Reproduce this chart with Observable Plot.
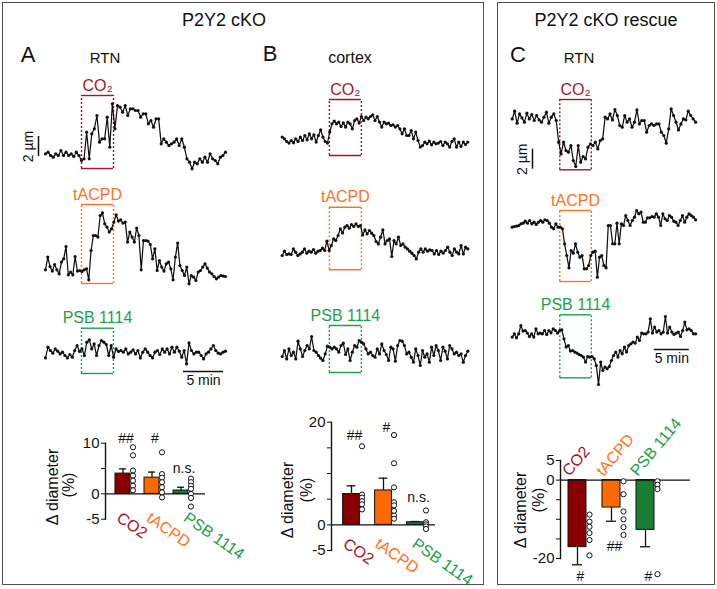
<!DOCTYPE html>
<html><head><meta charset="utf-8">
<script src="https://cdn.jsdelivr.net/npm/d3@7"></script>
<script src="https://cdn.jsdelivr.net/npm/@observablehq/plot@0.6"></script>
<style>
body{margin:0;background:#fff;font-family:"Liberation Sans",Arial,sans-serif;}
#fig{position:relative;width:717px;height:589px;overflow:hidden;background:#fff;}
.box{position:absolute;border:1.5px solid #505050;box-sizing:border-box;}
.lbl{position:absolute;white-space:nowrap;color:#111;line-height:1;}
.pl{position:absolute;}
.pl svg{overflow:visible;background:transparent !important;}
</style></head><body><div id="fig"></div>
<script>
// ---------- data ----------
const drugs = ["CO2", "tACPD", "PSB 1114"];
const traceLabels = ["CO₂", "tACPD", "PSB 1114"];
const drugColors = ["#a8141c", "#ff7220", "#1f9f47"];
const barColors = ["#8a0000", "#ff6a00", "#1b7e35"];

// vessel diameter traces (µm, relative to baseline), regularly sampled
const A_CO2 = [0.07,0.23,-0.1,-0.27,0.07,-0.1,0.4,-0.1,0.23,-0.1,0.07,-0.2,0.23,-0.1,-0.6,-0.43,2.23,-0.43,2.07,2.57,3.9,1.23,1.57,1.57,3.73,0.73,5.07,2.57,4.9,4.73,4.23,4.9,3.9,4.57,4.57,4.4,4.4,3.73,4.07,4.07,3.07,3.4,2.73,3.57,3.57,1.07,1.57,1.23,0.9,1.07,1.23,1.57,0.9,1.57,0.73,-0.43,-0.77,-1.43,-0.77,-0.93,-0.43,-0.77,-0.27,-0.77,0.07,-0.43,-0.6,-0.93,-0.27,-0.1,0.23];
const A_tACPD = [-0.1,1.17,0.23,-0.23,0.43,-0.1,-0.5,0.67,1.0,2.23,-0.6,-0.33,-0.6,1.23,-0.23,-0.17,-0.27,-0.1,0,-1.1,1.83,3.33,3.33,3.17,5.33,5.6,4.5,4.17,3.67,4.0,4.67,5.4,4.77,4.9,4.57,4.67,2.67,3.67,3.17,2.67,4.07,3.33,-0.1,2.83,2.83,2.77,2.43,1.0,2.0,-0.17,0.83,0.17,-0.23,0.5,0.67,0,-1.1,1.17,2.57,0.33,-0.17,-0.67,0.17,-1.5,-0.67,-0.83,-1.17,-0.33,-0.17,0.17,0.5,0.07,-0.33,-0.5,-0.77,-1.0,-0.83,-0.67,-0.73,-0.77];
const A_PSB = [-0.67,0.4,0.07,-0.2,0.23,0,-0.27,-0.1,-0.43,-0.67,-0.33,-0.6,0.07,0.57,-0.03,0.23,-0.43,0.9,1.13,0.23,0.73,-0.43,0.57,1.07,0.9,0.67,-0.43,0.57,-0.6,0.23,-0.03,0.07,-0.1,0.23,-0.27,-0.1,0.13,-0.27,0.07,-0.67,-0.1,0.23,-0.1,-0.43,-0.67,-0.1,0.07,-0.33,0.23,-0.1,0.23,-0.27,0.4,-0.1,0.4,0,-0.6,0.07,-1.27,0.83,0.07,-0.27,-0.1,-0.1,-0.43,-0.77,-0.27,-0.1,0.23,0.57,0.07,-0.2,-0.27,-0.1,0];
const B_CO2 = [0.27,0.1,-0.17,-0.33,-0.07,-0.3,0.1,-0.17,0.27,-0.07,0.43,0,0.6,0.1,0.5,-0.23,0.43,1.0,0.27,-0.17,-0.33,0.77,1.6,1.87,1.6,1.77,1.33,1.7,1.27,1.77,1.6,1.1,1.93,2.1,1.67,2.33,1.93,2.27,2.1,2.33,2.5,1.93,2.33,1.77,1.27,1.77,1.6,1.67,1.43,1.5,1.27,1.43,1.1,0.6,1.1,0.43,0.43,0.93,0.1,0.77,-0.07,-0.73,-0.57,-0.23,-0.4,-0.13,-0.5,-0.23,-0.4,-0.33,-0.17,-0.57,-0.23,-0.4,-0.73,-0.17,0.1,-0.73,-0.23,-0.67,-0.23,-0.47,-0.23];
const B_tACPD = [-0.33,0.1,-0.23,-0.17,-0.23,0.33,0,-0.33,-0.17,0,0.33,-0.1,0.1,0,0.27,-0.1,0.1,0.17,0.4,0.17,1.1,0.17,0.67,1.33,1.17,1.67,2.33,1.93,2.5,2.67,2.4,2.77,2.57,2.83,2.57,2.67,1.73,2.23,1.83,2.17,1.9,1.67,1.07,0.83,1.5,2.23,0.83,1.17,1.33,-0.43,1.17,0.83,1.5,0.67,0.83,0.5,0.33,0.1,-0.1,-0.33,-0.67,0,0.33,0,0.33,0.1,0.23,0.17,-0.17,0.17,-0.23,0.1,-0.1,0.17,0.5,0,-0.33,0.33,0,-0.17,0.67,-0.17,0.5,0.33];
const B_PSB = [-0.53,0.07,-0.77,0.23,-0.43,-0.1,-0.77,1.0,0.23,-0.53,0.07,0.57,0.23,1.47,0.07,-0.1,-0.43,-0.7,-0.93,-0.27,0.5,0.4,0.23,0.4,0.23,-0.1,0.57,0.8,-0.33,0.23,-0.93,-0.1,0.57,0.4,1.07,0.9,0.73,0.23,-0.27,-0.1,-0.43,-0.6,0.23,-0.27,0.73,0.07,-0.33,-0.93,0.4,0.23,-1.0,0.57,1.07,1.0,0.57,-0.27,-0.1,-0.6,-1.1,0.23,-0.43,-1.43,0.07,-0.6,-0.27,-1.1,0.4,-0.43,0.57,0.07,-0.93,0.4,0,-0.77,0.57,0.23,-0.27,-0.1,-0.43,-0.27,-1.1,-0.43,0];
const C_CO2 = [-0.17,0.6,-0.6,0.33,-0.07,-0.5,0.4,-0.17,0.27,-0.33,0.17,-0.27,-0.5,0,0.5,-0.6,0,0.33,-0.33,-2.5,-3.67,-2.5,-3.33,-3.5,-2.83,-4.33,-4.93,-2.83,-4.5,-3.93,-4.17,-3.0,-2.67,-2.83,-2.5,-3.17,-2.33,-2.17,0,-0.17,0.33,-0.27,0.77,0.17,-0.83,-1.0,0.17,-0.5,-0.17,-1.0,-0.5,0.73,-0.67,-0.33,-0.33,-1.5,-0.83,-0.67,-0.83,-0.67,-0.67,-1.5,-1.83,-2.6,-1.17,0.83,0.17,-0.5,-1.27,-0.67,-0.17,-0.27,0.6,0.17,-0.17,-0.5];
const C_tACPD = [-0.17,-0.1,-0.07,0,0.17,0.23,0.43,0.23,0.5,0.17,0.33,0.1,0.33,0.5,0.33,0.57,0.5,0.23,-0.17,-0.33,0.17,-0.17,-0.17,-0.33,-1.83,-3.0,-4.23,-2.5,-2.77,-1.83,-2.67,-3.17,-3.0,-4.33,-4.33,-4.0,-3.0,-2.67,-2.57,-5.17,-3.17,-3.0,-4.0,-4.23,0,0,-1.83,-1.83,0.23,-1.83,0.17,0,1.0,0.5,0,0.5,0.83,1.5,1.17,1.33,0.33,0.33,0.77,0.77,0.9,0.83,1.17,0.83,0,1.17,0.67,0.5,1.0,0.83,0.43,0.33,0,0.5,1.0,0.33,0.83,1.17,1.0,0.83,0.57];
const C_PSB = [-0.33,0,-0.4,0,0.83,0.27,0.33,0.07,-0.27,0,-0.33,0.5,0,0.07,0,0.33,-0.07,0.33,0.1,0.5,0.33,0.07,0.33,0.4,-0.5,-1.33,-1.17,-1.73,-1.67,-1.83,-1.93,-2.07,-2.17,-2.33,-2.83,-2.27,-2.33,-2.27,-2.5,-3.17,-5.07,-2.83,-3.67,-3.33,-3.5,-3.27,-2.67,-2.17,-1.83,-2.33,-1.67,-2.0,-1.33,-1.83,-1.17,-1.0,-0.83,-0.93,-0.33,-0.67,0.07,0,0,0.17,1.5,0.07,0.67,0.17,0.33,0,0.17,1.73,0.07,0.67,0.17,-0.07,0.07,0.17,-0.27,0.33,1.17,0.4,0.5,0.33,0,0];

// bar charts: Δ diameter (%)
const A_mean = [4.0, 3.2, 0.66];
const A_sem = [0.93, 1.1, 0.65];
const A_dots = [[9.2,7.6,4.6,3.6,2.6,1.6,0.7],[8.2,3.9,3.2,2.3,1.3,0.3,-0.7],[3.0,2.3,1.6,1.0,0,-0.8,-2.5]];
const A_sig = ["##", "#", "n.s."];
const B_mean = [6.0, 6.7, 0.5];
const B_sem = [1.6, 2.4, 0.15];
const B_dots = [[15.3,5.9,5.3,4.6,4.0,3.0],[17.5,12.0,7.3,4.4,3.8,2.7,1.8,1.2],[2.8,0.5,0.1,-0.3,-0.8]];
const B_sig = ["##", "#", "n.s."];
const C_mean = [-17.1, -7.0, -12.7];
const C_sem = [4.5, 3.5, 4.3];
const C_dots = [[-8.8,-10.6,-11.9,-13.5,-15.3,-19.2],[-0.3,-3.6,-8.0,-10.0,-12.0,-14.0],[-0.3,-1.2,-2.3,-24.0]];
const C_sig = ["#", "##", "#"];

// tick labels
const A_ticks = [-5, 0, 5, 10], A_tickLabels = [-5, 0, 10];
const B_ticks = [-5, 0, 5, 10, 15, 20], B_tickLabels = [-5, 0, 20];
const C_ticks = [-20, -15, -10, -5, 0, 5], C_tickLabels = [-20, 0, 5];

// ---------- layout ----------
const fig = document.getElementById("fig");
const FONT = '"Liberation Sans", Arial, sans-serif';
const PX_PER_UM = 10;

function place(node, left, top) {
  const d = document.createElement("div");
  d.className = "pl"; d.style.left = left + "px"; d.style.top = top + "px";
  d.appendChild(node); fig.appendChild(d);
}
function label(text, cx, cy, size, rotate) {
  const d = document.createElement("div");
  d.className = "lbl"; d.textContent = text;
  d.style.fontSize = size + "px"; d.style.left = cx + "px"; d.style.top = cy + "px";
  d.style.transform = "translate(-50%,-50%)" + (rotate ? ` rotate(${rotate}deg)` : "");
  fig.appendChild(d);
}
function box(l, t, w, h) {
  const d = document.createElement("div");
  d.className = "box";
  Object.assign(d.style, {left: l + "px", top: t + "px", width: w + "px", height: h + "px"});
  fig.appendChild(d);
}
box(2, 2, 482, 583);
box(497, 2, 218, 583);
label("P2Y2 cKO", 224, 20, 18);
label("P2Y2 cKO rescue", 606, 20, 18);
label("A", 28, 55, 22);
label("B", 270, 54, 22);
label("C", 518, 55, 22);
label("RTN", 105, 57, 15);
label("cortex", 350, 58, 16);
label("RTN", 579, 57, 15);

const style = {background: "transparent", overflow: "visible", fontFamily: FONT, color: "#111"};

function tracePlot(values, col, row, k, extras = []) {
  const n = values.length;
  const data = values.map((v, i) => ({t: i * col.span / (n - 1), v}));
  const xDom = [(col.left - col.tZero) / col.ppm, (col.left + col.width - col.tZero) / col.ppm];
  const yDom = [(row.baseY - (row.top + row.height)) / PX_PER_UM, (row.baseY - row.top) / PX_PER_UM];
  const [t0, t1] = col.stim;
  const color = drugColors[k];
  const p = Plot.plot({
    width: col.width, height: row.height, margin: 0,
    x: {domain: xDom, axis: null}, y: {domain: yDom, axis: null}, style,
    marks: [
      Plot.ruleX([t0, t1], {y1: row.boxBot, y2: row.boxTop, stroke: color, strokeWidth: 1.4, strokeDasharray: "2,2"}),
      Plot.ruleY([row.boxTop, row.boxBot], {x1: t0, x2: t1, stroke: color, strokeWidth: 1.4}),
      Plot.text([traceLabels[k]], {text: d => d, x: (t0 + t1) / 2, y: row.boxTop, dy: -5, lineAnchor: "bottom", fill: color, fontSize: 16}),
      Plot.line(data, {x: "t", y: "v", stroke: "#111", strokeWidth: 1.25}),
      Plot.dot(data, {x: "t", y: "v", r: 1.6, fill: "#111"}),
      ...extras
    ]
  });
  place(p, col.left, row.top);
}

const colA = {left: 20, width: 215, tZero: 45, ppm: 8, span: 22.5, stim: [4.5, 8.5]};
const colB = {left: 250, width: 230, tZero: 281.7, ppm: 8, span: 23.2, stim: [5.9, 9.9]};
const colC = {left: 505, width: 205, tZero: 511.7, ppm: 7, span: 26.2, stim: [6.8, 11.3]};

const um2 = (t, y0) => [
  Plot.ruleX([t], {y1: y0, y2: y0 + 2, stroke: "#111", strokeWidth: 1.5}),
  Plot.text(["2 µm"], {text: d => d, x: t, y: y0 + 1, rotate: -90, dx: -10, fontSize: 14})
];
const min5 = (t, y0) => [
  Plot.ruleY([y0], {x1: t, x2: t + 5, stroke: "#111", strokeWidth: 1.5}),
  Plot.text(["5 min"], {text: d => d, x: t + 2.5, y: y0, dy: 4, lineAnchor: "top", fontSize: 14})
];

tracePlot(A_CO2, colA, {top: 82, height: 92, baseY: 154, boxTop: 5.9, boxBot: -1.4}, 0, um2(-0.875, -0.2));
tracePlot(A_tACPD, colA, {top: 182, height: 106, baseY: 268.3, boxTop: 6.43, boxBot: -1.47}, 1);
tracePlot(A_PSB, colA, {top: 300, height: 95, baseY: 350.7, boxTop: 2.3, boxBot: -2.23}, 2, min5(17.25, -2.03));
tracePlot(B_CO2, colB, {top: 82, height: 80, baseY: 139.3, boxTop: 4.03, boxBot: -1.57}, 0);
tracePlot(B_tACPD, colB, {top: 184, height: 92, baseY: 251.7, boxTop: 4.5, boxBot: -1.76}, 1);
tracePlot(B_PSB, colB, {top: 300, height: 80, baseY: 350.7, boxTop: 2.57, boxBot: -2.13}, 2);
tracePlot(C_CO2, colC, {top: 82, height: 95, baseY: 116.7, boxTop: 1.77, boxBot: -5.26}, 0, um2(2.9, -5.2));
tracePlot(C_tACPD, colC, {top: 188, height: 100, baseY: 225, boxTop: 1.5, boxBot: -5.6}, 1);
tracePlot(C_PSB, colC, {top: 292, height: 95, baseY: 333.3, boxTop: 1.9, boxBot: -4.4}, 2, min5(20.3, -1.57));

function barPlot(c) {
  const rows = drugs.map((d, i) => ({drug: d, mean: c.means[i], sem: c.sems[i], sig: c.sig[i], sigY: c.sigY[i], bar: barColors[i], txt: drugColors[i]}));
  const dots = drugs.flatMap((d, i) => c.dots[i].map(v => ({drug: d, v})));
  const end = d => d.mean + Math.sign(d.mean) * d.sem;
  const p = Plot.plot({
    width: c.width, height: c.height,
    marginLeft: c.ml, marginRight: c.mr, marginTop: c.mt, marginBottom: c.mb,
    x: {domain: drugs, axis: null, paddingInner: 0, paddingOuter: c.pad, align: c.align},
    y: {domain: c.yDomain},
    color: {type: "identity"},
    style: {...style, fontSize: "15px"},
    marks: [
      Plot.ruleX(rows, {x: "drug", y1: "mean", y2: end, stroke: "#111", strokeWidth: 1.3}),
      Plot.tickY(rows, {x: "drug", y: end, insetLeft: c.capInset, insetRight: c.capInset, stroke: "#111", strokeWidth: 1.3}),
      Plot.barY(rows, {x: "drug", y: "mean", fill: "bar", stroke: "#111", strokeWidth: 1, insetLeft: c.barInset, insetRight: c.barInset}),
      Plot.ruleY([0], {stroke: "#111", strokeWidth: 1.4}),
      Plot.frame({anchor: "left", stroke: "#111", strokeWidth: 1.4}),
      Plot.axisY({ticks: c.ticks, tickFormat: d => c.tickLabels.includes(d) ? String(d) : "", tickSize: 4, tickPadding: 2, fontSize: 15, label: null}),
      Plot.dot(dots, {x: "drug", y: "v", dx: c.dotDx, r: 2.6, fill: "white", stroke: "#111", strokeWidth: 1}),
      Plot.text(rows, {x: "drug", y: "sigY", text: "sig", dx: 3, fontSize: 14}),
      ...rows.map((r, i) => Plot.text([r], {x: "drug", y: 0, text: "drug", fill: "txt", rotate: c.rot, textAnchor: "start", lineAnchor: c.lineAnchor, dx: c.labelDx[i], dy: c.labelDy, fontSize: 16}))
    ]
  });
  place(p, c.left, c.top);
}

barPlot({left: 20, top: 420, width: 200, height: 150, ml: 85, mr: 15, mt: 22.7, mb: 51.3, pad: 0.224, align: 0.23,
  yDomain: [-5, 10], ticks: A_ticks, tickLabels: A_tickLabels, means: A_mean, sems: A_sem, dots: A_dots, sig: A_sig,
  sigY: [10.9, 10.9, 5.0], barInset: 7, capInset: 11, dotDx: 10, rot: 35, lineAnchor: "top", labelDx: [-1, 0, 8], labelDy: 17});
barPlot({left: 260, top: 400, width: 190, height: 180, ml: 71, mr: 15, mt: 21.7, mb: 30, pad: 0.108, align: 0.45,
  yDomain: [-5, 20], ticks: B_ticks, tickLabels: B_tickLabels, means: B_mean, sems: B_sem, dots: B_dots, sig: B_sig,
  sigY: [17.4, 19.0, 5.3], barInset: 7.6, capInset: 11.6, dotDx: 10.5, rot: 35, lineAnchor: "top", labelDx: [-3, -3, 2], labelDy: 12});
barPlot({left: 505, top: 440, width: 200, height: 140, ml: 55, mr: 15, mt: 20, mb: 22, pad: 0.41, align: 0,
  yDomain: [-20, 5], ticks: C_ticks, tickLabels: C_tickLabels, means: C_mean, sems: C_sem, dots: C_dots, sig: C_sig,
  sigY: [-24.6, -17.0, -24.6], barInset: 8, capInset: 12, dotDx: 12, rot: -50, lineAnchor: "bottom", labelDx: [-8, -8, -8], labelDy: -3});

label("Δ diameter", 53, 487, 16, -90);
label("(%)", 69, 485, 16, -90);
label("Δ diameter", 288, 500, 16, -90);
label("(%)", 307, 490, 16, -90);
label("Δ diameter", 521, 510, 16, -90);
label("(%)", 539, 500, 16, -90);
</script></body></html>
